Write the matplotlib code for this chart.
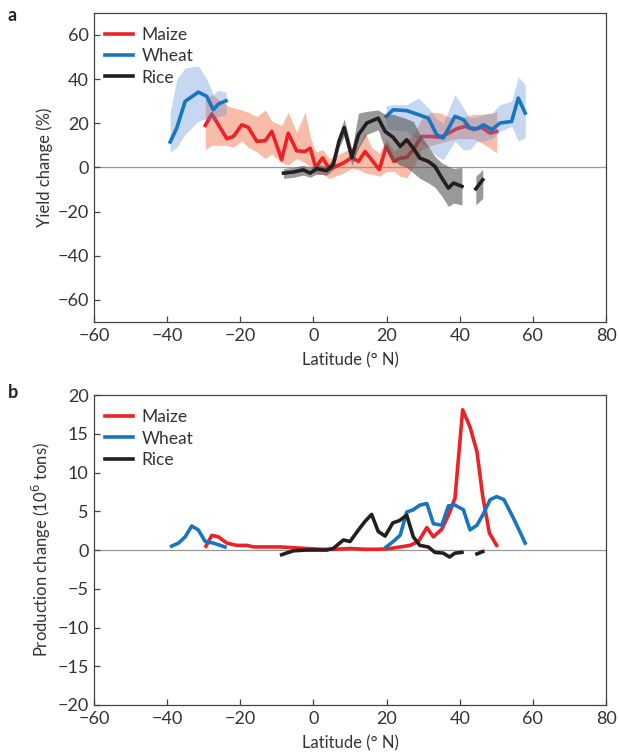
import numpy as np
import matplotlib
matplotlib.use('Agg')
import matplotlib.pyplot as plt

plt.rcParams['font.family'] = ['Lato', 'DejaVu Sans']

# ---- panel a: yield change (%) ----
maize_lat = [-29.6, -27.8, -23.7, -21.9, -19.6, -17.8, -15.5, -13.2, -11.4, -8.7, -6.9, -4.6, -2.3, -0.9,
             0.6, 2.5, 4.4, 8.2, 10.5, 12.3, 14.1, 15.9, 18.0, 19.9, 22.0, 23.7, 25.5, 27.3, 29.6, 32.3,
             34.6, 36.9, 39.2, 41.5, 43.7, 46.0, 48.3, 50.1]
maize_yield = [19.0, 24.2, 13.0, 14.0, 19.3, 18.1, 11.8, 12.1, 16.3, 3.5, 15.5, 7.5, 7.2, 8.7,
               0.0, 4.3, -0.8, 2.0, 4.5, 2.7, 7.2, 3.5, -1.0, 9.5, 2.7, 4.2, 4.5, 8.0, 14.0, 14.0,
               13.6, 15.5, 17.5, 18.6, 17.1, 18.1, 15.5, 16.3]
maize_hi = [31, 33, 28, 27, 26, 25, 23, 26, 21, 19, 25, 16, 25, 14,
            7, 8, 4, 7, 9, 9.5, 16, 9, 6.5, 13, 7.5, 9.5, 12, 15, 22, 25,
            24.6, 23, 22, 23, 24, 24, 24.5, 25]
maize_lo = [8, 10, 10, 9, 12, 9, 7, 4, 6, 2, 1, 4, 2, 0,
            -3, -3, -5, -2.6, -0.3, -1, -2.6, -3, -4, -2, -1.8, -4, -4.8, 0, 8, 10,
            11, 12, 13, 13, 13, 11, 8.7, 6.5]

wheat_s_lat = [-39.2, -37.4, -35.1, -31.5, -29.2, -27.4, -26.0, -23.9]
wheat_s_yield = [11.5, 17.8, 29.9, 34.1, 32.2, 26.1, 28.7, 30.2]
wheat_s_hi = [25, 40, 45, 46, 40, 33, 35, 34]
wheat_s_lo = [7, 9, 15, 21, 22, 21, 23, 24]

wheat_n_lat = [19.9, 21.8, 25.5, 28.7, 31.4, 33.7, 35.5, 38.7, 41.0, 42.8, 44.7, 46.5, 48.8, 51.0, 54.2, 56.0, 57.9]
wheat_n_yield = [23.1, 26.1, 25.7, 23.9, 22.3, 14.8, 13.3, 23.1, 21.6, 17.8, 17.5, 19.3, 17.1, 20.1, 20.8, 31.4, 24.6]
wheat_n_hi = [28, 28.4, 28.4, 31.4, 27, 22, 20, 33, 27, 22.3, 23, 24, 24.6, 28.4, 30, 41, 37.5]
wheat_n_lo = [17.8, 17, 16.3, 12, 8.7, 5, 3.5, 11.8, 8, 8, 11.8, 11.8, 13, 16.3, 18.6, 12, 13.3]

rice_lat = [-8.2, -5.5, -2.8, -0.9, 0.9, 3.6, 5.4, 7.0, 8.4, 10.5, 12.3, 14.6, 17.7, 19.6, 21.8, 23.7,
            25.5, 27.3, 29.1, 31.4, 33.2, 35.1, 36.9, 38.3, 40.6]
rice_yield = [-2.6, -2.1, -1.1, -2.6, -0.6, -1.5, 1.2, 12, 18, 4.5, 14.8, 20.1, 22.3, 16.3, 13.6, 9.5,
              12.5, 8.7, 4.2, 2.7, 0.5, -4.8, -9.4, -7.1, -8.6]
rice_hi = [-0.5, 0, 1, 0, 1.5, 0.5, 4, 15, 22, 8, 24.6, 25.4, 26, 24, 24, 23,
           22, 20.8, 15, 9.5, 5, 2, 0.5, -0.5, 0]
rice_lo = [-5, -4.5, -3.5, -4.5, -3, -3.5, -1, 9, 14, 1, 8.7, 15, 17, 8, 3, 1,
           0, -2.5, -5, -7, -9, -13, -17.7, -16.2, -17]
rice2_lat = [44.4, 46.3]
rice2_yield = [-9.7, -5.6]
rice2_hi = [-4, -1]
rice2_lo = [-17, -14]

# ---- panel b: production change (10^6 tons) ----
maize_b_lat = [-29.4, -27.8, -26.0, -23.7, -21.0, -18.2, -16.4, -12, -9.1, -5.5, -2, 2, 6, 10, 14, 18, 21,
               23.7, 26.4, 28.7, 31.0, 32.8, 35.1, 36.9, 38.7, 40.8, 42.8, 44.7, 46.3, 48.1, 50.1]
maize_prod = [0.5, 1.9, 1.7, 0.9, 0.6, 0.6, 0.4, 0.4, 0.4, 0.3, 0.2, 0.1, 0.1, 0.2, 0.1, 0.1, 0.2,
              0.4, 0.6, 1.1, 2.9, 1.7, 2.7, 4.5, 6.7, 18.1, 15.9, 12.7, 6.9, 2.2, 0.6]

wheat_b_s_lat = [-38.8, -36.9, -35.1, -33.3, -31.5, -29.6, -27.4, -24.2]
wheat_b_s_prod = [0.5, 0.9, 1.7, 3.1, 2.6, 1.1, 0.9, 0.4]
wheat_b_n_lat = [19.9, 21.8, 23.7, 25.5, 27.3, 29.1, 31.0, 32.8, 35.1, 36.9, 38.7, 41.0, 42.8, 44.7,
                 46.5, 48.3, 50.1, 52.1, 54.7, 57.9]
wheat_b_n_prod = [0.4, 1.1, 1.9, 4.9, 5.2, 5.8, 6.0, 3.4, 3.2, 5.7, 5.8, 5.2, 2.6, 3.2,
                  4.7, 6.5, 6.9, 6.5, 4.1, 0.9]

rice_b_lat = [-8.7, -5.5, -2, 1, 3.6, 5.4, 8.2, 10.0, 12.3, 14.1, 15.9, 17.7, 19.6, 21.7, 23.5, 25.5,
              27.3, 29.1, 31.4, 33.2, 35.5, 37.2, 38.7, 40.6]
rice_b_prod = [-0.6, -0.1, 0, 0, 0, 0.2, 1.3, 1.1, 2.6, 3.7, 4.6, 2.4, 1.8, 3.5, 3.8, 4.5,
               1.7, 0.6, 0.4, -0.3, -0.4, -0.9, -0.4, -0.3]
rice_b2_lat = [44.7, 46.3]
rice_b2_prod = [-0.5, -0.2]

RED = '#ec2227'
BLUE = '#1a75c0'
BLACK = '#231f20'
TXT = '#333333'
LW = 2.6

fig = plt.figure(figsize=(6.19, 7.54), dpi=100)
ax1 = fig.add_axes([0.152, 0.573, 0.827, 0.410])
ax2 = fig.add_axes([0.152, 0.065, 0.827, 0.411])


def style(ax, yticks, ylim):
    ax.set_xlim(-60, 80)
    ax.set_ylim(*ylim)
    ax.set_xticks(range(-60, 81, 20))
    ax.set_yticks(yticks)
    ax.tick_params(direction='in', length=4, width=0.9, colors='#444444',
                   labelcolor=TXT, labelsize=13, top=False, right=False, pad=4)
    for s in ax.spines.values():
        s.set_color('#444444')
        s.set_linewidth(0.9)
    ax.axhline(0, color='#999999', lw=0.9, zorder=1)
    ax.set_xlabel('Latitude (° N)', fontsize=12, color=TXT, labelpad=6)


# panel a
style(ax1, range(-60, 61, 20), (-70, 70))
ax1.fill_between(maize_lat, maize_lo, maize_hi, color='#f47a55', alpha=0.5, lw=0, zorder=2)
ax1.plot(maize_lat, maize_yield, color=RED, lw=LW, zorder=3, label='Maize')
for la, lo, hi in [(wheat_s_lat, wheat_s_lo, wheat_s_hi), (wheat_n_lat, wheat_n_lo, wheat_n_hi)]:
    ax1.fill_between(la, lo, hi, color='#5b8fd8', alpha=0.35, lw=0, zorder=4)
ax1.plot(wheat_s_lat, wheat_s_yield, color=BLUE, lw=LW, zorder=5, label='Wheat')
ax1.plot(wheat_n_lat, wheat_n_yield, color=BLUE, lw=LW, zorder=5)
ax1.fill_between(rice_lat, rice_lo, rice_hi, color='#555555', alpha=0.6, lw=0, zorder=6)
ax1.fill_between(rice2_lat, rice2_lo, rice2_hi, color='#555555', alpha=0.6, lw=0, zorder=6)
ax1.plot(rice_lat, rice_yield, color=BLACK, lw=LW, zorder=7, label='Rice')
ax1.plot(rice2_lat, rice2_yield, color=BLACK, lw=LW, zorder=7)
ax1.set_ylabel('Yield change (%)', fontsize=12, color=TXT, labelpad=3)

# panel b
style(ax2, range(-20, 21, 5), (-20, 20))
ax2.plot(maize_b_lat, maize_prod, color=RED, lw=LW, zorder=3, label='Maize')
ax2.plot(wheat_b_s_lat, wheat_b_s_prod, color=BLUE, lw=LW, zorder=4, label='Wheat')
ax2.plot(wheat_b_n_lat, wheat_b_n_prod, color=BLUE, lw=LW, zorder=4)
ax2.plot(rice_b_lat, rice_b_prod, color=BLACK, lw=LW, zorder=5, label='Rice')
ax2.plot(rice_b2_lat, rice_b2_prod, color=BLACK, lw=LW, zorder=5)
ax2.set_ylabel('Production change (10$^6$ tons)', fontsize=12, color=TXT, labelpad=3)

for ax in (ax1, ax2):
    ax.legend(loc='upper left', bbox_to_anchor=(-0.012, 1.01), frameon=False, fontsize=12.5,
              handlelength=1.6, handletextpad=0.5, labelspacing=0.3, borderaxespad=0.6,
              labelcolor=TXT)

fig.text(0.012, 0.972, 'a', fontsize=13, fontweight='bold', color='#222222')
fig.text(0.012, 0.472, 'b', fontsize=13, fontweight='bold', color='#222222')

fig.savefig('out.png', dpi=100)
